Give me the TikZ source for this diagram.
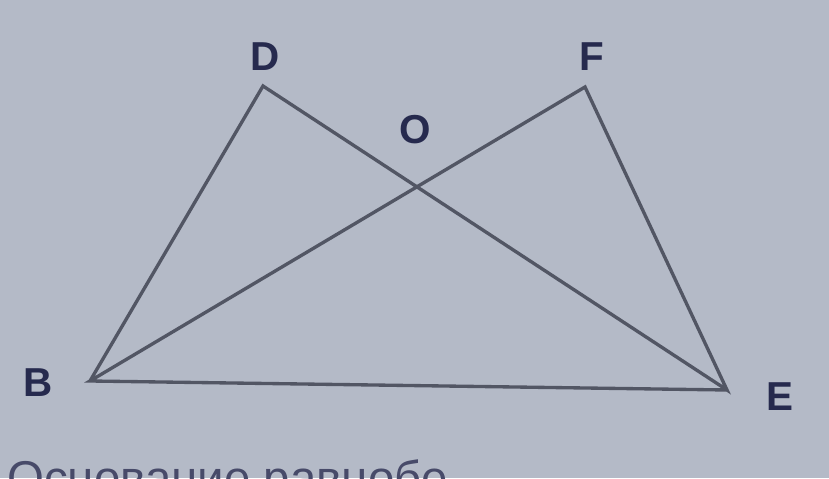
\documentclass[tikz,border=0pt]{standalone}
\usepackage{fontspec}
\setmainfont{Liberation Sans}
\usetikzlibrary{positioning}
\definecolor{paper}{RGB}{180,186,199}
\definecolor{pencil}{RGB}{82,86,100}
\definecolor{ink}{RGB}{38,42,78}

\begin{document}
\begin{tikzpicture}
                \tikzstyle{side} = [draw=pencil, line width=1.9pt, line join=miter];
                \tikzstyle{vertexlabel} = [text=ink, font=\fontsize{23}{23}\selectfont\bfseries, inner sep=0pt];

                \fill[paper] (0,0) rectangle (16.58,9.56);
                \useasboundingbox (0,0) rectangle (16.58,9.56);

                \coordinate (B) at (1.80,1.94);
                \coordinate (E) at (14.54,1.76);
                \coordinate (D) at (5.26,7.84);
                \coordinate (F) at (11.70,7.82);

                \node[vertexlabel](labelD) at (5.30,8.42) {D};
                \node[vertexlabel](labelF) at (11.84,8.42) {F};
                \node[vertexlabel](labelO) at (8.30,6.96) {O};
                \node[vertexlabel](labelB) at (0.76,1.90) {B};
                \node[vertexlabel](labelE) at (15.60,1.62) {E};

                \draw[side] (B) -- (D) -- (E) -- (F) -- (B) -- (E);

                \begin{scope}
                    \clip (0,0) rectangle (16.58,9.56);
                    \node[text=ink!85, font=\fontsize{27}{27}\selectfont, inner sep=0pt, anchor=base west](caption) at (0.14,-0.32) {Основание равнобе};
                \end{scope}
            \end{tikzpicture}
\end{document}
